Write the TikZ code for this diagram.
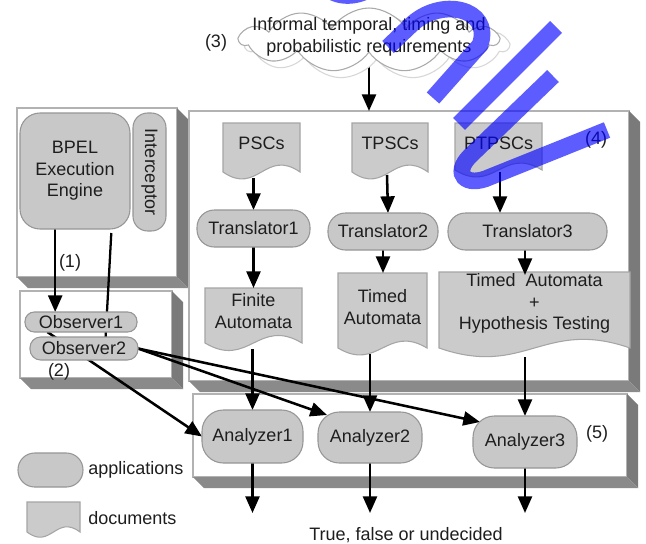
\documentclass[tikz,border=0pt]{standalone}
\usepackage{fontspec}
\setmainfont{Liberation Sans}
\usetikzlibrary{arrows.meta,calc,fit,shapes.symbols}

\pgfdeclarelayer{back}
\pgfdeclarelayer{docs}
\pgfdeclarelayer{edges}
\pgfdeclarelayer{stamp}
\pgfsetlayers{back,docs,edges,main,stamp}

\definecolor{appfill}{RGB}{200,200,200}
\definecolor{appline}{RGB}{150,150,150}
\definecolor{docfill}{RGB}{203,203,203}
\definecolor{docline}{RGB}{165,165,165}
\definecolor{boxline}{RGB}{178,178,178}
\definecolor{sidegray}{RGB}{122,122,122}
\definecolor{bottomgray}{RGB}{138,138,138}
\definecolor{ink}{RGB}{30,30,30}
\definecolor{cloudline}{RGB}{170,170,170}
\definecolor{cloudshade}{RGB}{215,215,215}

\newcommand\lblfont{\fontsize{13.5}{16}\selectfont}

% extruded right and bottom faces of a 3D panel
\newcommand\boxsides[1]{%
  \fill[sidegray] (#1.north east) -- ++(11,11) -- ($(#1.south east)+(11,11)$) -- (#1.south east) -- cycle;
  \fill[bottomgray] (#1.south west) -- ++(11,11) -- ($(#1.south east)+(11,11)$) -- (#1.south east) -- cycle;}

% document outline with wavy bottom: node name, drop of the wave, wave strength
\newcommand\docpath[3]{%
  \path[draw=docline, fill=docfill, line width=0.8pt]
    (#1.north west) -- (#1.north east) -- ($(#1.south east)+(0,#2)$)
    .. controls ($(#1.south east)!0.45!(#1.south west)+(0,#2-#3)$)
            and ($(#1.south east)!0.55!(#1.south west)+(0,#2+#3)$)
    .. ($(#1.south west)+(0,#2)$) -- cycle;}

\tikzset{
  px/.style 2 args={minimum width=#1*0.75pt, minimum height=#2*0.75pt},
  app/.style={draw=appline, fill=appfill, line width=0.8pt, text=ink, font=\lblfont,
              inner sep=1pt, outer sep=0pt, align=center},
  doc/.style={inner sep=1pt, outer sep=0pt, text=ink, font=\lblfont, align=center},
  panel/.style={draw=boxline, fill=white, line width=0.8pt, inner sep=0pt, outer sep=0pt},
  arr/.style={draw=black, line width=1.9pt, -{Triangle[length=12.5pt,width=10.5pt]}},
  link/.style={draw=black, line width=1.7pt},
  tag/.style={text=ink, font=\lblfont, inner sep=0pt},
  stampstroke/.style={draw=blue, draw opacity=0.64, line width=12.5pt},
}

\begin{document}
\begin{tikzpicture}[x=0.75pt,y=-0.75pt]
\useasboundingbox (0,0) rectangle (646,543);

% 3D panels
\begin{pgfonlayer}{back}
  \fill[white] (0,0) rectangle (646,543);
  \node[panel, fit={(17,108) (177,277)}] (box1) {};
  \boxsides{box1}
  \node[panel, fit={(20,291) (172,378)}] (box2) {};
  \boxsides{box2}
  \node[panel, fit={(189,111) (629,381)}] (box4) {};
  \boxsides{box4}
  \node[panel, fit={(193,394) (627,477)}] (box5) {};
  \boxsides{box5}
\end{pgfonlayer}

% requirements cloud
\node[cloud, cloud puffs=11, cloud puff arc=115, aspect=4, draw=cloudshade, fill=white,
      line width=0.8pt, px={262}{66}] (cloudshadow) at (377,46) {};
\node[cloud, cloud puffs=11, cloud puff arc=115, aspect=4, draw=cloudline, fill=white,
      line width=0.8pt, px={258}{64}] (cloud) at (369,40) {};
\node[tag, align=center] (req) at (369,37) {Informal temporal, timing and\\probabilistic requirements};

% runtime side
\node[app, rounded corners=15pt, px={110}{116}] (bpel) at (75,171) {BPEL\\Execution\\Engine};
\node[app, rounded corners=11pt, rotate=-90, px={118}{33}] (icpt) at (149.5,172) {Interceptor};
\node[app, rounded corners=7pt, px={112}{20}] (obs1) at (81,322) {Observer1};
\node[app, rounded corners=8pt, px={108}{23}] (obs2) at (84,348.5) {Observer2};

% specifications and translators
\node[doc, px={77}{40}] (psc) at (261.5,143) {PSCs};
\node[doc, px={76}{40}] (tps) at (390,143) {TPSCs};
\node[doc, px={87}{40}] (ptp) at (498.5,143) {PTPSCs};
\node[app, rounded corners=13pt, px={113}{37}] (tr1) at (253.5,228.5) {Translator1};
\node[app, rounded corners=13pt, px={110}{37}] (tr2) at (383,231.5) {Translator2};
\node[app, rounded corners=13pt, px={159}{37}] (tr3) at (527.5,231.5) {Translator3};
\node[doc, px={97}{46}] (fin) at (253.5,311) {Finite\\Automata};
\node[doc, px={89}{68}] (tad) at (382.5,307) {Timed\\Automata};
\node[doc, px={191}{63}] (taht) at (534.5,303.5) {Timed~~Automata\\+\\Hypothesis Testing};

% analyzers
\node[app, rounded corners=16pt, px={101}{53}] (an1) at (252.5,436.5) {Analyzer1};
\node[app, rounded corners=16pt, px={104}{51}] (an2) at (370,437.5) {Analyzer2};
\node[app, rounded corners=16pt, px={104}{52}] (an3) at (525,442) {Analyzer3};

% legend
\node[app, rounded corners=12.5pt, px={65}{34}] (legapp) at (50.5,470) {};
\node[doc, px={53}{24}] (legdoc) at (53.5,514) {};
\node[tag, anchor=west] (legapptxt) at (88,470) {applications};
\node[tag, anchor=west] (legdoctxt) at (88,518) {documents};

% step numbers and result
\node[tag] (n1) at (70,263) {(1)};
\node[tag] (n2) at (59,372) {(2)};
\node[tag] (n3) at (216,43) {(3)};
\node[tag] (n4) at (596,140) {(4)};
\node[tag] (n5) at (597,434) {(5)};
\node[tag] (verdict) at (406,535) {True, false or undecided};

% document outlines
\begin{pgfonlayer}{docs}
  \docpath{psc}{9}{24}
  \docpath{tps}{9}{24}
  \docpath{ptp}{7}{24}
  \docpath{fin}{9}{26}
  \docpath{tad}{7}{24}
  \docpath{taht}{13}{30}
  \docpath{legdoc}{6}{18}
\end{pgfonlayer}

% connectors
\begin{pgfonlayer}{edges}
  \draw[arr] (cloud.south) -- (cloud.south |- box4.north);

  \coordinate (bpA) at ($(bpel.south west)!0.32!(bpel.south east)$);
  \draw[arr] (bpA) -- (bpA |- obs1.north);
  \draw[link] ($(bpel.south west)!0.83!(bpel.south east)+(0,4)$) -- ($(obs2.north west)!0.7!(obs2.north east)$);

  \draw[arr] ($(obs1.south west)!0.2!(obs1.south east)$) -- (an1.west);
  \draw[arr] (obs2.east) -- ($(an2.north west)+(9,3)$);
  \draw[arr] (obs2.east) -- ($(an3.north west)+(7,6)$);

  \draw[arr] ($(tr1.north |- psc.south)+(0,15)$) -- (tr1.north);
  \draw[arr] (tr1.south) -- (tr1.south |- fin.north);
  \draw[arr] ($(tps.south)+(-3,12)$) -- ($(tr2.north)+(5,0)$);
  \draw[arr] (tr2.south) -- (tr2.south |- tad.north);
  \coordinate (ptA) at ($(ptp.south)+(1.5,9)$);
  \draw[arr] (ptA) -- (ptA |- tr3.north);
  \coordinate (t3A) at ($(tr3.south)+(-2.5,0)$);
  \draw[arr] (t3A) -- ($(t3A |- taht.north)+(0,3)$);

  \draw[arr] ($(an1.north |- fin.south)+(0,15)$) -- (an1.north);
  \draw[arr] ($(an2.north |- tad.south)+(0,13)$) -- (an2.north);
  \draw[arr] ($(an3.north |- taht.south)+(0,22)$) -- (an3.north);

  \draw[arr] (an1.south) -- (an1.south |- 0,513);
  \draw[arr] (an2.south) -- (an2.south |- 0,513);
  \draw[arr] (an3.south) -- (an3.south |- 0,513);
\end{pgfonlayer}

% translucent blue strokes across the top right
\begin{pgfonlayer}{stamp}
  \begin{scope}
    \clip (0,0) rectangle (646,543);
    \draw[stampstroke] (323,-15) .. controls (336,-1) and (358,-1) .. (376,-15);
    \draw[stampstroke] (388,47) -- (410,26) .. controls (440,-4) and (493,8) .. (480,45) -- (433,98);
    \draw[stampstroke] (556,27) -- (459,124);
    \draw[stampstroke] (553,76) -- (470,156) .. controls (452,174) and (466,188) .. (490,177) -- (607,130);
  \end{scope}
\end{pgfonlayer}
\end{tikzpicture}
\end{document}
